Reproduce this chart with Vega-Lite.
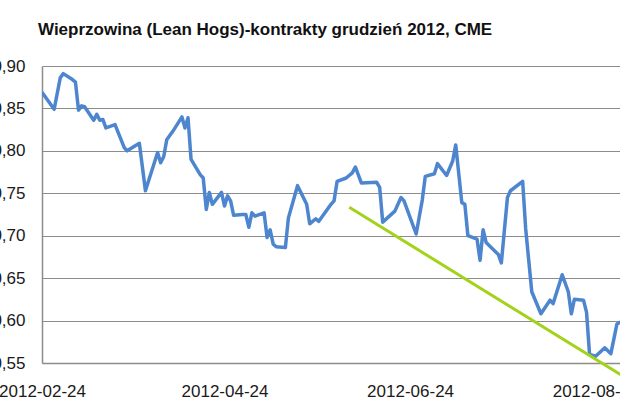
{
  "$schema": "https://vega.github.io/schema/vega-lite/v6.json",
  "autosize": {"type": "none"},
  "width": 578,
  "height": 297,
  "padding": {"left": 42, "top": 66, "right": 0, "bottom": 50},
  "background": "white",
  "title": {
    "text": "Wieprzowina (Lean Hogs)-kontrakty grudzień 2012, CME",
    "anchor": "start",
    "frame": "group",
    "orient": "top",
    "dx": -4,
    "offset": 18,
    "font": "Liberation Sans",
    "fontSize": 17,
    "fontWeight": "bold",
    "color": "#111111"
  },
  "config": {
    "view": {"stroke": null},
    "axis": {"labelFont": "Liberation Sans", "labelColor": "#1a1a1a"}
  },
  "datasets": {
    "price": [
      {"date": "2012-02-24", "value": 0.869},
      {"date": "2012-02-28", "value": 0.849},
      {"date": "2012-03-01", "value": 0.886},
      {"date": "2012-03-02", "value": 0.891},
      {"date": "2012-03-05", "value": 0.884},
      {"date": "2012-03-06", "value": 0.881},
      {"date": "2012-03-07", "value": 0.848},
      {"date": "2012-03-08", "value": 0.853},
      {"date": "2012-03-09", "value": 0.852},
      {"date": "2012-03-12", "value": 0.836},
      {"date": "2012-03-13", "value": 0.843},
      {"date": "2012-03-14", "value": 0.836},
      {"date": "2012-03-15", "value": 0.837},
      {"date": "2012-03-16", "value": 0.827},
      {"date": "2012-03-19", "value": 0.831},
      {"date": "2012-03-22", "value": 0.804},
      {"date": "2012-03-23", "value": 0.800},
      {"date": "2012-03-27", "value": 0.809},
      {"date": "2012-03-29", "value": 0.753},
      {"date": "2012-04-02", "value": 0.798},
      {"date": "2012-04-03", "value": 0.786},
      {"date": "2012-04-04", "value": 0.793},
      {"date": "2012-04-05", "value": 0.813},
      {"date": "2012-04-07", "value": 0.823},
      {"date": "2012-04-10", "value": 0.840},
      {"date": "2012-04-11", "value": 0.827},
      {"date": "2012-04-12", "value": 0.839},
      {"date": "2012-04-13", "value": 0.790},
      {"date": "2012-04-16", "value": 0.772},
      {"date": "2012-04-17", "value": 0.768},
      {"date": "2012-04-18", "value": 0.731},
      {"date": "2012-04-19", "value": 0.751},
      {"date": "2012-04-20", "value": 0.737},
      {"date": "2012-04-23", "value": 0.751},
      {"date": "2012-04-24", "value": 0.735},
      {"date": "2012-04-25", "value": 0.747},
      {"date": "2012-04-26", "value": 0.741},
      {"date": "2012-04-27", "value": 0.724},
      {"date": "2012-04-30", "value": 0.725},
      {"date": "2012-05-01", "value": 0.725},
      {"date": "2012-05-02", "value": 0.710},
      {"date": "2012-05-03", "value": 0.727},
      {"date": "2012-05-04", "value": 0.723},
      {"date": "2012-05-07", "value": 0.727},
      {"date": "2012-05-08", "value": 0.698},
      {"date": "2012-05-09", "value": 0.707},
      {"date": "2012-05-10", "value": 0.690},
      {"date": "2012-05-11", "value": 0.687},
      {"date": "2012-05-14", "value": 0.686},
      {"date": "2012-05-15", "value": 0.721},
      {"date": "2012-05-18", "value": 0.759},
      {"date": "2012-05-21", "value": 0.737},
      {"date": "2012-05-22", "value": 0.714},
      {"date": "2012-05-24", "value": 0.720},
      {"date": "2012-05-25", "value": 0.717},
      {"date": "2012-05-29", "value": 0.737},
      {"date": "2012-05-30", "value": 0.741},
      {"date": "2012-05-31", "value": 0.764},
      {"date": "2012-06-03", "value": 0.768},
      {"date": "2012-06-05", "value": 0.774},
      {"date": "2012-06-06", "value": 0.781},
      {"date": "2012-06-08", "value": 0.762},
      {"date": "2012-06-13", "value": 0.763},
      {"date": "2012-06-14", "value": 0.757},
      {"date": "2012-06-15", "value": 0.716},
      {"date": "2012-06-19", "value": 0.729},
      {"date": "2012-06-21", "value": 0.745},
      {"date": "2012-06-22", "value": 0.741},
      {"date": "2012-06-26", "value": 0.702},
      {"date": "2012-06-27", "value": 0.722},
      {"date": "2012-06-28", "value": 0.742},
      {"date": "2012-06-29", "value": 0.770},
      {"date": "2012-07-02", "value": 0.773},
      {"date": "2012-07-03", "value": 0.785},
      {"date": "2012-07-06", "value": 0.771},
      {"date": "2012-07-08", "value": 0.788},
      {"date": "2012-07-09", "value": 0.807},
      {"date": "2012-07-11", "value": 0.739},
      {"date": "2012-07-12", "value": 0.737},
      {"date": "2012-07-13", "value": 0.700},
      {"date": "2012-07-16", "value": 0.696},
      {"date": "2012-07-17", "value": 0.671},
      {"date": "2012-07-18", "value": 0.707},
      {"date": "2012-07-19", "value": 0.692},
      {"date": "2012-07-23", "value": 0.678},
      {"date": "2012-07-24", "value": 0.668},
      {"date": "2012-07-26", "value": 0.745},
      {"date": "2012-07-27", "value": 0.753},
      {"date": "2012-07-31", "value": 0.764},
      {"date": "2012-08-01", "value": 0.708},
      {"date": "2012-08-03", "value": 0.634},
      {"date": "2012-08-06", "value": 0.608},
      {"date": "2012-08-09", "value": 0.624},
      {"date": "2012-08-10", "value": 0.620},
      {"date": "2012-08-13", "value": 0.654},
      {"date": "2012-08-15", "value": 0.634},
      {"date": "2012-08-16", "value": 0.608},
      {"date": "2012-08-17", "value": 0.625},
      {"date": "2012-08-20", "value": 0.624},
      {"date": "2012-08-21", "value": 0.610},
      {"date": "2012-08-22", "value": 0.560},
      {"date": "2012-08-24", "value": 0.558},
      {"date": "2012-08-27", "value": 0.568},
      {"date": "2012-08-29", "value": 0.561},
      {"date": "2012-08-31", "value": 0.596},
      {"date": "2012-09-01", "value": 0.598},
      {"date": "2012-09-03", "value": 0.598}
    ],
    "trend": [
      {"date": "2012-06-04", "value": 0.7335},
      {"date": "2012-09-04", "value": 0.530}
    ]
  },
  "encoding": {
    "x": {
      "field": "date",
      "type": "temporal",
      "scale": {
        "domain": [
          {"year": 2012, "month": 2, "date": 24, "utc": true},
          {"year": 2012, "month": 9, "date": 1, "utc": true}
        ]
      },
      "axis": {
        "title": null,
        "grid": false,
        "ticks": false,
        "domain": true,
        "domainColor": "#8c8c8c",
        "domainWidth": 1.5,
        "labelFontSize": 17,
        "labelPadding": 20,
        "labelFlush": false,
        "labelOverlap": false,
        "labelBound": false,
        "values": [
          {"year": 2012, "month": 2, "date": 24, "utc": true},
          {"year": 2012, "month": 4, "date": 24, "utc": true},
          {"year": 2012, "month": 6, "date": 24, "utc": true},
          {"year": 2012, "month": 8, "date": 24, "utc": true}
        ],
        "labelExpr": "utcFormat(datum.value, '%Y-%m-%d')"
      }
    },
    "y": {
      "field": "value",
      "type": "quantitative",
      "scale": {"domain": [0.55, 0.9], "zero": false, "nice": false},
      "axis": {
        "title": null,
        "grid": true,
        "gridColor": "#8c8c8c",
        "gridWidth": 1.2,
        "ticks": false,
        "domain": true,
        "domainColor": "#8c8c8c",
        "domainWidth": 1.5,
        "labelFontSize": 17,
        "labelPadding": 17,
        "labelFlush": false,
        "labelOverlap": false,
        "values": [0.55, 0.6, 0.65, 0.7, 0.75, 0.8, 0.85, 0.9],
        "labelExpr": "replace(format(datum.value, '.2f'), '.', ',')"
      }
    }
  },
  "layer": [
    {
      "data": {"name": "price"},
      "mark": {"type": "line", "color": "#4d86cf", "strokeWidth": 3.5, "clip": true, "strokeJoin": "round"}
    },
    {
      "data": {"name": "trend"},
      "mark": {"type": "line", "color": "#a3d21b", "strokeWidth": 3, "clip": false}
    }
  ]
}
